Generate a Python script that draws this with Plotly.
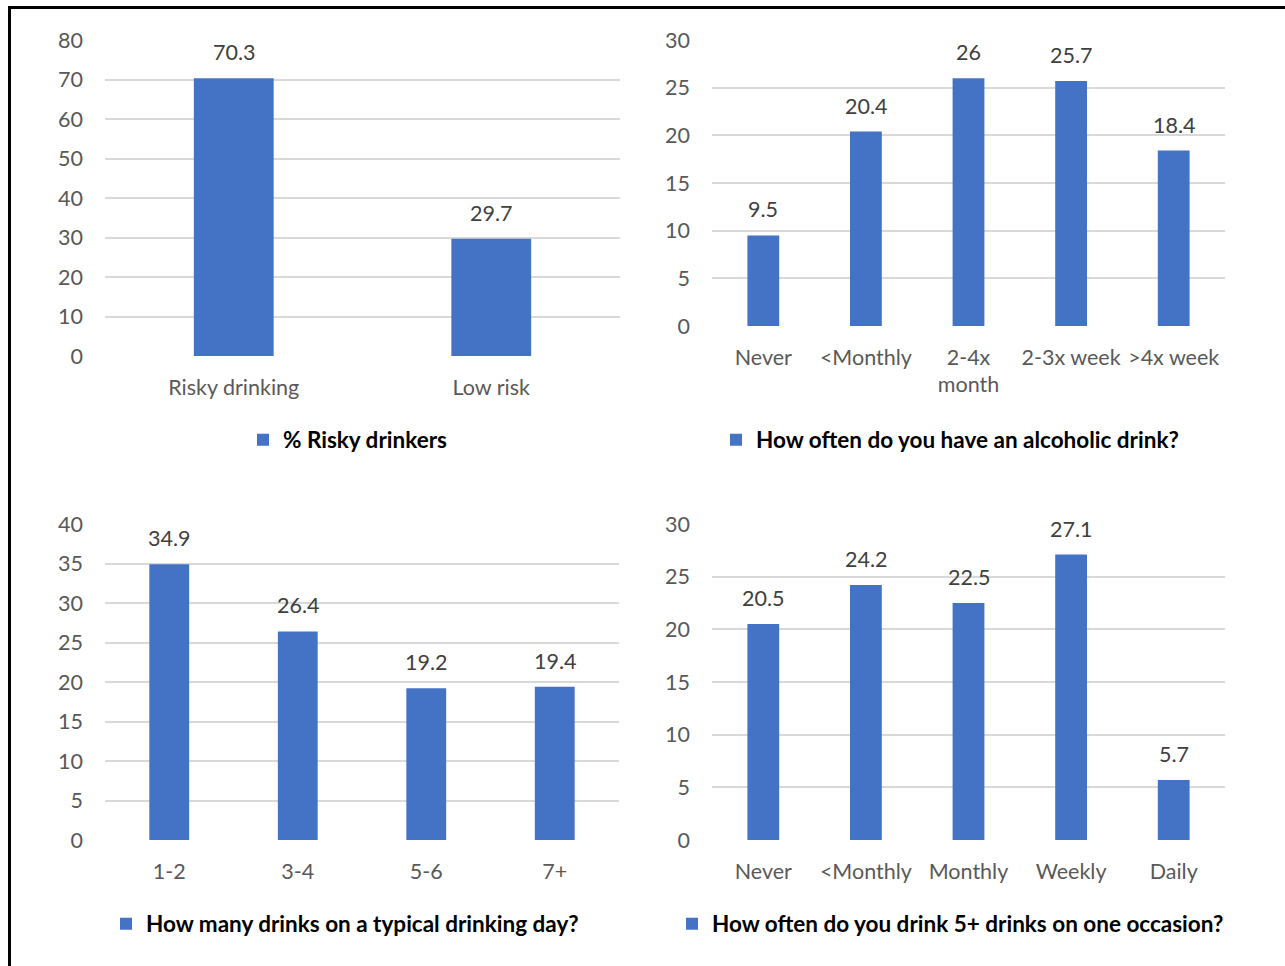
import plotly.graph_objects as go

# Survey results: four bar charts on one page
risk_cats = ["Risky drinking", "Low risk"]
risk_vals = [70.3, 29.7]

freq_cats = ["Never", "<Monthly", "2-4x<br>month", "2-3x week", ">4x week"]
freq_vals = [9.5, 20.4, 26, 25.7, 18.4]

drinks_cats = ["1-2", "3-4", "5-6", "7+"]
drinks_vals = [34.9, 26.4, 19.2, 19.4]

binge_cats = ["Never", "<Monthly", "Monthly", "Weekly", "Daily"]
binge_vals = [20.5, 24.2, 22.5, 27.1, 5.7]

W, H = 1285, 966
BAR = "#4472C4"
GRID = "#d9d9d9"
TICK = "#595959"
FONT = "Lato"
TSIZE = 21.5
LSIZE = 22.5


def xd(a, b):
    return [a / W, b / W]


def yd(top, bottom):
    return [(H - bottom) / H, (H - top) / H]


panels = [
    dict(name="% Risky drinkers", cats=risk_cats, vals=risk_vals,
         x=(105, 620), y=(40, 356), ymax=80, dtick=10, leg=(243, 440)),
    dict(name="How often do you have an alcoholic drink?", cats=freq_cats, vals=freq_vals,
         x=(712, 1225), y=(40, 326), ymax=30, dtick=5, leg=(716, 440)),
    dict(name="How many drinks on a typical drinking day?", cats=drinks_cats, vals=drinks_vals,
         x=(105, 619), y=(524, 840), ymax=40, dtick=5, leg=(106, 924)),
    dict(name="How often do you drink 5+ drinks on one occasion?", cats=binge_cats, vals=binge_vals,
         x=(712, 1225), y=(524, 840), ymax=30, dtick=5, leg=(672, 924)),
]

fig = go.Figure()
annotations = []
layout = {}

for i, p in enumerate(panels, start=1):
    sfx = "" if i == 1 else str(i)
    lg = "legend" if i == 1 else f"legend{i}"
    fig.add_trace(go.Bar(
        x=p["cats"], y=p["vals"], name=p["name"],
        marker=dict(color=BAR, line=dict(width=0)),
        width=0.31, xaxis=f"x{sfx}", yaxis=f"y{sfx}",
        legend=lg, showlegend=True, hoverinfo="x+y",
    ))
    layout[f"xaxis{sfx}"] = dict(
        domain=xd(*p["x"]), anchor=f"y{sfx}", type="category",
        showgrid=False, showline=False, zeroline=False, automargin=False,
        tickfont=dict(family=FONT, size=TSIZE, color=TICK),
        ticklabelstandoff=16, fixedrange=True,
    )
    layout[f"yaxis{sfx}"] = dict(
        domain=yd(*p["y"]), anchor=f"x{sfx}", range=[0, p["ymax"]],
        dtick=p["dtick"], showgrid=True, gridcolor=GRID, gridwidth=1.5,
        zeroline=False, showline=False, automargin=False,
        tickfont=dict(family=FONT, size=TSIZE, color=TICK),
        ticklabelstandoff=21, fixedrange=True,
    )
    layout[lg] = dict(
        x=p["leg"][0] / W, xanchor="left",
        y=(H - p["leg"][1]) / H, yanchor="middle",
        orientation="h", bgcolor="rgba(0,0,0,0)",
        font=dict(family=FONT, size=LSIZE, color="#000000", weight="bold"),
        itemwidth=30,
    )
    for c, v in zip(p["cats"], p["vals"]):
        annotations.append(dict(
            x=c, y=v, xref=f"x{sfx}", yref=f"y{sfx}",
            text=f"{v:g}", showarrow=False, yanchor="bottom", yshift=11,
            font=dict(family=FONT, size=TSIZE, color="#404040"),
        ))

# Page frame
shapes = [dict(type="rect", xref="paper", yref="paper",
               x0=9.5 / W, x1=1.02, y0=-0.02, y1=(H - 7.5) / H,
               line=dict(color="#000000", width=3), fillcolor="rgba(0,0,0,0)")]

fig.update_layout(
    width=W, height=H, margin=dict(l=0, r=0, t=0, b=0, autoexpand=False),
    paper_bgcolor="#ffffff", plot_bgcolor="#ffffff",
    font=dict(family=FONT), annotations=annotations, shapes=shapes,
    bargap=0.69, **layout,
)

fig.write_html("out.html")
